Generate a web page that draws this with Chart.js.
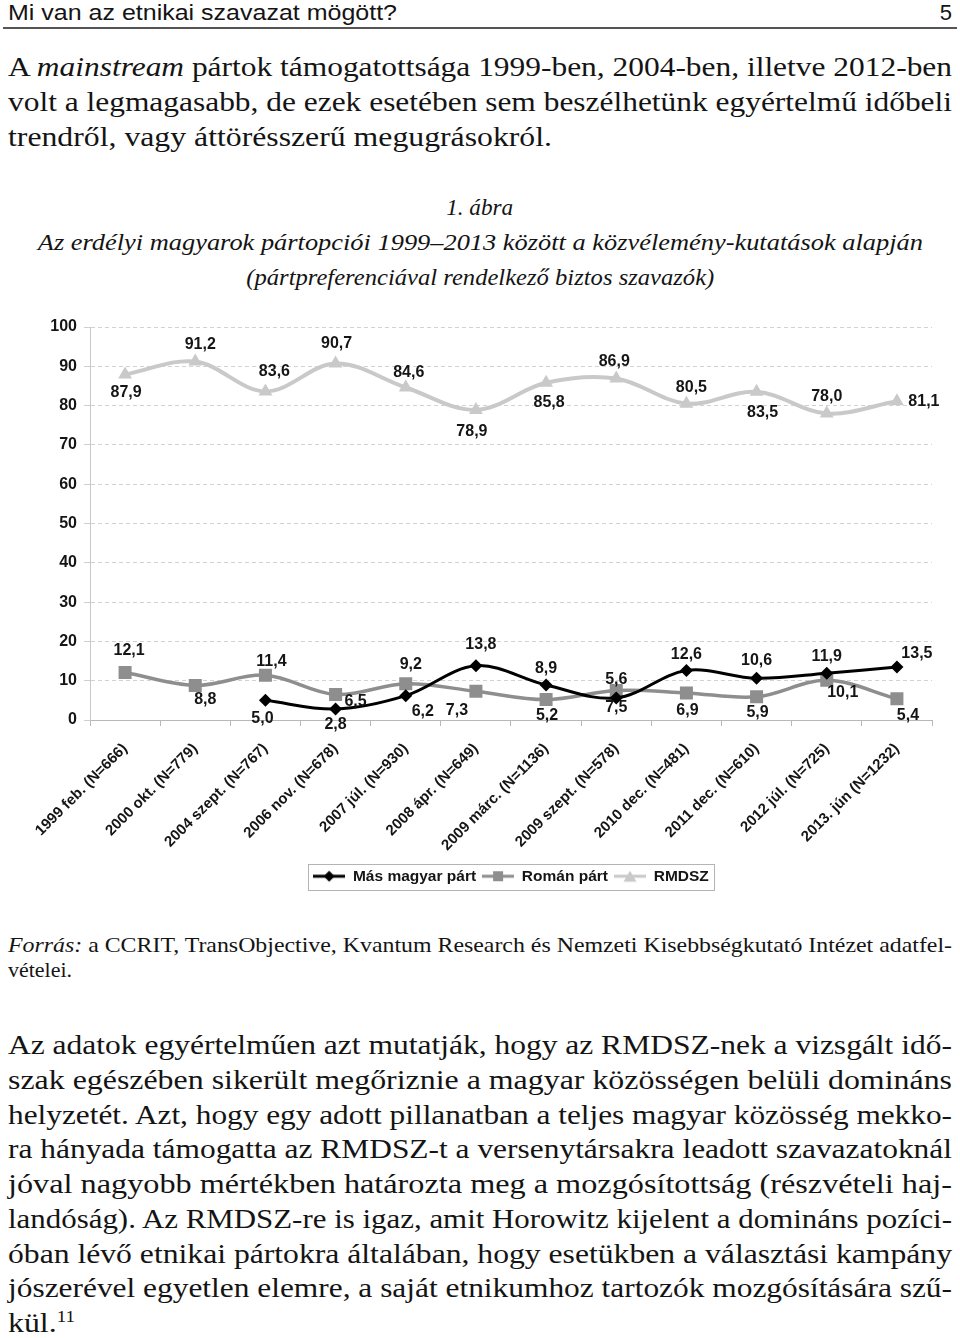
<!DOCTYPE html>
<html lang="hu">
<head>
<meta charset="utf-8">
<title>Mi van az etnikai szavazat mögött?</title>
<script src="https://cdn.jsdelivr.net/npm/chart.js@4.4.1/dist/chart.umd.min.js"></script>
<style>
  html, body { margin: 0; padding: 0; background: #fff; }
  #page { position: relative; width: 960px; height: 1338px; overflow: hidden; background: #fff; color: #141414; }
  .ln { position: absolute; white-space: nowrap; line-height: 1; }
  .ln > span { display: inline-block; white-space: nowrap; }
  .serif { font-family: "Liberation Serif", "DejaVu Serif", serif; }
  .sans { font-family: "Liberation Sans", Arial, sans-serif; }
  .body27 { font-size: 27px; }
  .cap { font-size: 24px; font-style: italic; }
  .src { font-size: 22px; }
  #rule { position: absolute; left: 3px; top: 27px; width: 954px; height: 2px; background: #555; }
  #chartBox { position: absolute; left: 20px; top: 310px; width: 925px; height: 585px; }
  sup { font-size: 0.6em; vertical-align: 0.6em; line-height: 0; }
</style>
</head>
<body>
<div id="page">
  <!-- running header -->
  <div class="ln sans" style="font-size:22px; left:8px; top:2.4px;" data-w="389"><span>Mi van az etnikai szavazat mögött?</span></div>
  <div class="ln sans" style="font-size:22px; right:8px; top:2.4px;"><span>5</span></div>
  <div id="rule"></div>

  <!-- paragraph 1 -->
  <div class="ln serif body27" style="left:8px; top:54.4px;" data-w="944"><span>A <i>mainstream</i> pártok támogatottsága 1999-ben, 2004-ben, illetve 2012-ben</span></div>
  <div class="ln serif body27" style="left:8px; top:89.4px;" data-w="944"><span>volt a legmagasabb, de ezek esetében sem beszélhetünk egyértelmű időbeli</span></div>
  <div class="ln serif body27" style="left:8px; top:124.4px;" data-w="544"><span>trendről, vagy áttörésszerű megugrásokról.</span></div>

  <!-- figure caption -->
  <div class="ln serif cap" style="left:0; width:960px; text-align:center; top:194.9px;" data-w="67" data-c="1"><span>1. ábra</span></div>
  <div class="ln serif cap" style="left:0; width:960px; text-align:center; top:229.9px;" data-w="885" data-c="1"><span>Az erdélyi magyarok pártopciói 1999–2013 között a közvélemény-kutatások alapján</span></div>
  <div class="ln serif cap" style="left:0; width:960px; text-align:center; top:264.9px;" data-w="468" data-c="1"><span>(pártpreferenciával rendelkező biztos szavazók)</span></div>

  <!-- chart -->
  <div id="chartBox"><canvas id="chart" width="925" height="585"></canvas></div>

  <!-- source -->
  <div class="ln serif src" style="left:8px; top:933.6px;" data-w="944"><span><i>Forrás:</i> a CCRIT, TransObjective, Kvantum Research és Nemzeti Kisebbségkutató Intézet adatfel-</span></div>
  <div class="ln serif src" style="left:8px; top:958.6px;" data-w="64"><span>vételei.</span></div>

  <!-- paragraph 2 -->
  <div class="ln serif body27" style="left:8px; top:1032px;" data-w="944"><span>Az adatok egyértelműen azt mutatják, hogy az RMDSZ-nek a vizsgált idő-</span></div>
  <div class="ln serif body27" style="left:8px; top:1066.7px;" data-w="944"><span>szak egészében sikerült megőriznie a magyar közösségen belüli domináns</span></div>
  <div class="ln serif body27" style="left:8px; top:1101.5px;" data-w="944"><span>helyzetét. Azt, hogy egy adott pillanatban a teljes magyar közösség mekko-</span></div>
  <div class="ln serif body27" style="left:8px; top:1136.2px;" data-w="944"><span>ra hányada támogatta az RMDSZ-t a versenytársakra leadott szavazatoknál</span></div>
  <div class="ln serif body27" style="left:8px; top:1171px;" data-w="944"><span>jóval nagyobb mértékben határozta meg a mozgósítottság (részvételi haj-</span></div>
  <div class="ln serif body27" style="left:8px; top:1205.7px;" data-w="944"><span>landóság). Az RMDSZ-re is igaz, amit Horowitz kijelent a domináns pozíci-</span></div>
  <div class="ln serif body27" style="left:8px; top:1240.5px;" data-w="944"><span>óban lévő etnikai pártokra általában, hogy esetükben a választási kampány</span></div>
  <div class="ln serif body27" style="left:8px; top:1275.2px;" data-w="944"><span>jószerével egyetlen elemre, a saját etnikumhoz tartozók mozgósítására szű-</span></div>
  <div class="ln serif body27" style="left:8px; top:1310px;" data-w="67"><span>kül.<sup>11</sup></span></div>
</div>

<script>
// ---------------- data ----------------
const categories = [
  '1999 feb. (N=666)', '2000 okt. (N=779)', '2004 szept. (N=767)', '2006 nov. (N=678)',
  '2007 júl. (N=930)', '2008 ápr. (N=649)', '2009 márc. (N=1136)', '2009 szept. (N=578)',
  '2010 dec. (N=481)', '2011 dec. (N=610)', '2012 júl. (N=725)', '2013. jún (N=1232)'
];
const seriesNames = ['Más magyar párt', 'Román párt', 'RMDSZ'];
const masMagyarPart = [null, null, 5.0, 2.8, 6.2, 13.8, 8.9, 5.6, 12.6, 10.6, 11.9, 13.5];
const romanPart     = [12.1, 8.8, 11.4, 6.5, 9.2, 7.3, 5.2, 7.5, 6.9, 5.9, 10.1, 5.4];
const rmdsz         = [87.9, 91.2, 83.6, 90.7, 84.6, 78.9, 85.8, 86.9, 80.5, 83.5, 78.0, 81.1];
const yTickValues   = [0, 10, 20, 30, 40, 50, 60, 70, 80, 90, 100];

// ---------------- text fitting ----------------
document.querySelectorAll('.ln[data-w]').forEach(el => {
  const sp = el.firstElementChild;
  const w = sp.getBoundingClientRect().width;
  const target = parseFloat(el.dataset.w);
  if (w > 0) {
    sp.style.transformOrigin = el.dataset.c ? 'center center' : 'left center';
    sp.style.transform = 'scaleX(' + (target / w) + ')';
  }
});

// ---------------- legend icons ----------------
function legendIcon(color, shape, lineW) {
  const c = document.createElement('canvas');
  c.width = 32; c.height = 14;
  const g = c.getContext('2d');
  g.strokeStyle = color; g.lineWidth = lineW;
  g.beginPath(); g.moveTo(0, 7); g.lineTo(32, 7); g.stroke();
  g.fillStyle = color; g.beginPath();
  if (shape === 'diamond') { g.moveTo(16, 1.5); g.lineTo(21.5, 7); g.lineTo(16, 12.5); g.lineTo(10.5, 7); }
  else if (shape === 'square') { g.rect(11, 2, 10, 10); }
  else { g.moveTo(16, 1.5); g.lineTo(22.5, 12.5); g.lineTo(9.5, 12.5); }
  g.closePath(); g.fill();
  return c;
}
const legendIcons = [
  legendIcon('#000000', 'diamond', 3),
  legendIcon('#8e8e8e', 'square', 3),
  legendIcon('#c9c9c9', 'triangle', 3)
];

// ---------------- plugins ----------------
const fmt = v => v.toFixed(1).replace('.', ',');

const pointLabels = {
  id: 'pointLabels',
  afterDatasetsDraw(chart) {
    const ctx = chart.ctx;
    ctx.save();
    ctx.font = 'bold 16px "Liberation Sans", Arial, sans-serif';
    ctx.fillStyle = '#151515';
    ctx.textAlign = 'center';
    ctx.textBaseline = 'middle';
    chart.data.datasets.forEach((ds, di) => {
      const meta = chart.getDatasetMeta(di);
      meta.data.forEach((pt, i) => {
        const v = ds.data[i];
        if (v === null || v === undefined) return;
        const off = ds.labelOffsets[i];
        ctx.fillText(fmt(v), pt.x + off[0], pt.y + off[1]);
      });
    });
    ctx.restore();
  }
};

const legendFrame = {
  id: 'legendFrame',
  afterLayout(chart) {
    const lg = chart.legend, ca = chart.chartArea;
    if (!lg) return;
    const shift = (ca.left + ca.right) / 2 - (lg.left + lg.right) / 2;
    lg.left += shift; lg.right += shift;
  },
  afterDraw(chart) {
    const lg = chart.legend;
    if (!lg || !lg.legendHitBoxes || !lg.legendHitBoxes.length) return;
    const hb = lg.legendHitBoxes;
    let l = Infinity, r = -Infinity, t = Infinity, b = -Infinity;
    hb.forEach(h => { l = Math.min(l, h.left); r = Math.max(r, h.left + h.width); t = Math.min(t, h.top); b = Math.max(b, h.top + h.height); });
    const ctx = chart.ctx;
    ctx.save();
    ctx.strokeStyle = '#b4b4b4';
    ctx.lineWidth = 1;
    ctx.strokeRect(Math.round(l - 5) + 0.5, Math.round(t - 5) + 0.5, Math.round(r - l + 10), Math.round(b - t + 10));
    ctx.restore();
  }
};

// ---------------- chart ----------------
const TICK_FONT = '"Liberation Sans", Arial, sans-serif';
new Chart(document.getElementById('chart'), {
  type: 'line',
  data: {
    labels: categories,
    datasets: [
      {
        label: seriesNames[0], data: masMagyarPart,
        borderColor: '#000', backgroundColor: '#000', borderWidth: 3,
        pointStyle: 'rectRot', pointRadius: 6.5, pointBorderWidth: 0,
        tension: 0.35, spanGaps: false,
        labelOffsets: [[0,0],[0,0],[-3,18],[0,16],[17,16],[5,-21],[0,-16],[0,-18],[0,-16],[0,-18],[0,-17],[20,-13]]
      },
      {
        label: seriesNames[1], data: romanPart,
        borderColor: '#8e8e8e', backgroundColor: '#8e8e8e', borderWidth: 3.5,
        pointStyle: 'rect', pointRadius: 9.2, pointBorderWidth: 0,
        tension: 0.35,
        labelOffsets: [[4,-22],[10,14],[6,-14],[20,7],[5,-19],[-19,19],[1,16],[0,17],[1,18],[1,16],[16,12],[11,17]]
      },
      {
        label: seriesNames[2], data: rmdsz,
        borderColor: '#c9c9c9', backgroundColor: '#c9c9c9', borderWidth: 4,
        pointStyle: 'triangle', pointRadius: 8, pointBorderWidth: 0,
        tension: 0.35,
        labelOffsets: [[1,18],[5,-17],[9,-20],[1,-20],[3,-15],[-4,22],[3,20],[-2,-17],[5,-16],[6,21],[0,-17],[27,0]]
      }
    ]
  },
  options: {
    responsive: false,
    animation: false,
    devicePixelRatio: 1,
    layout: { padding: { top: 17, right: 13, bottom: 1, left: 0 } },
    plugins: {
      tooltip: { enabled: false },
      legend: {
        position: 'bottom',
        align: 'center',
        labels: {
          usePointStyle: true,
          pointStyleWidth: 32,
          padding: 6,
          color: '#151515',
          font: { family: TICK_FONT, size: 15.5, weight: 'bold' },
          generateLabels(chart) {
            const items = Chart.defaults.plugins.legend.labels.generateLabels(chart);
            items.forEach((it, i) => { it.pointStyle = legendIcons[i]; });
            return items;
          }
        }
      }
    },
    scales: {
      x: {
        offset: true,
        grid: { display: true, drawOnChartArea: false, offset: true, tickLength: 6, color: '#b8b8b8', tickColor: '#b8b8b8' },
        border: { display: true, color: '#b8b8b8', width: 1 },
        ticks: {
          autoSkip: false, minRotation: 45, maxRotation: 45, padding: 14,
          color: '#151515', font: { family: TICK_FONT, size: 15, weight: 'bold' }
        },
        afterFit(scale) { scale.height = 142.5; }
      },
      y: {
        min: 0, max: 100,
        afterBuildTicks(scale) { scale.ticks = yTickValues.map(v => ({ value: v })); },
        grid: { color: '#d2d2d2', tickLength: 6, tickColor: '#cfcfcf', lineWidth: 1 },
        border: { display: true, color: '#c8c8c8', width: 1, dash: [4, 3] },
        ticks: {
          padding: 7, color: '#151515',
          font: { family: TICK_FONT, size: 16, weight: 'bold' }
        },
        afterFit(scale) { scale.width = 70; }
      }
    }
  },
  plugins: [pointLabels, legendFrame]
});
</script>
</body>
</html>
